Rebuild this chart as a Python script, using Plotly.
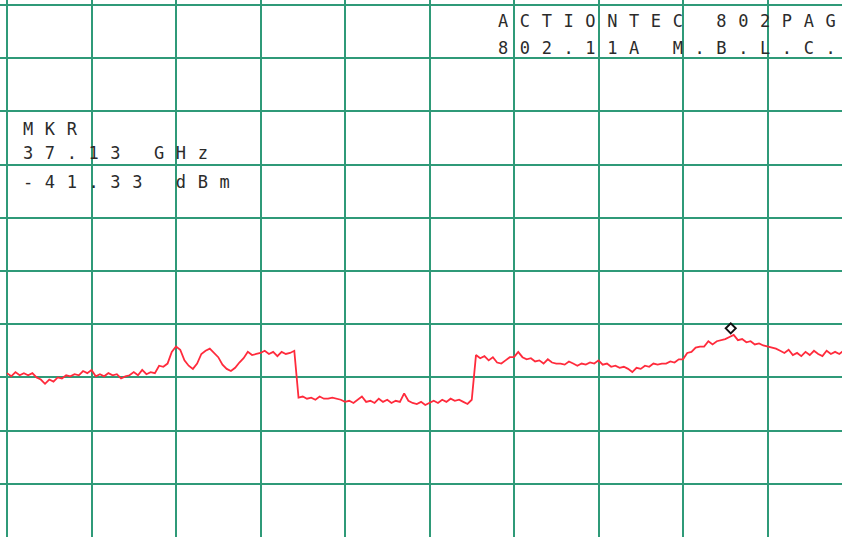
import plotly.graph_objects as go

# Sweep: 20 GHz start, 0.1 GHz per point
START_GHZ = 20.0
STEP_GHZ = 0.1

levels_dbm = [
    -44.6, -44.9, -44.5, -44.8, -44.6, -44.8, -44.6, -45.0, -45.2, -45.6,
    -45.2, -45.4, -45.0, -45.1, -44.8, -44.9, -44.7, -44.8, -44.4, -44.6,
    -44.3, -44.9, -44.7, -44.9, -44.6, -44.8, -44.7, -45.1, -44.9, -44.8,
    -44.5, -44.8, -44.3, -44.7, -44.5, -44.6, -43.9, -44.0, -43.7, -42.6,
    -42.1, -42.4, -43.4, -43.9, -44.2, -43.7, -42.8, -42.5, -42.3, -42.7,
    -43.1, -43.8, -44.2, -44.4, -44.1, -43.6, -43.2, -42.6, -42.9, -42.8,
    -42.7, -42.5, -42.8, -42.6, -43.0, -42.6, -42.8, -42.7, -42.5, -46.9,
    -46.8, -47.0, -46.9, -47.1, -46.8, -47.0, -47.0, -46.9, -47.0, -47.1,
    -47.3, -47.2, -47.4, -47.1, -46.8, -47.3, -47.2, -47.4, -47.0, -47.3,
    -47.1, -47.4, -47.2, -47.3, -46.5, -47.2, -47.4, -47.5, -47.3, -47.6,
    -47.4, -47.2, -47.4, -47.1, -47.3, -47.0, -47.2, -47.1, -47.3, -47.5,
    -47.1, -42.9, -43.2, -43.0, -43.4, -43.1, -43.6, -43.7, -43.4, -43.1,
    -43.1, -42.6, -43.1, -43.3, -43.2, -43.5, -43.4, -43.7, -43.3, -43.6,
    -43.7, -43.7, -43.8, -43.5, -43.7, -43.9, -43.7, -43.8, -43.6, -43.7,
    -43.4, -43.8, -43.7, -44.0, -43.9, -44.1, -44.0, -44.2, -44.5, -44.1,
    -44.2, -43.9, -44.0, -43.7, -43.8, -43.7, -43.7, -43.5, -43.6, -43.3,
    -43.3, -42.7, -42.6, -42.2, -42.1, -42.1, -41.6, -41.9, -41.6, -41.5,
    -41.4, -41.2, -41.0, -41.5, -41.4, -41.7, -41.6, -41.9, -41.8, -42.0,
    -42.1, -42.2, -42.3, -42.5, -42.7, -42.4, -42.9, -42.7, -43.0, -42.6,
    -42.9, -42.5, -42.8, -43.0, -42.5, -42.8, -42.6, -42.8, -42.5, -42.6,
]
freqs_ghz = [round(START_GHZ + STEP_GHZ * i, 1) for i in range(len(levels_dbm))]

MKR_FREQ_GHZ = 37.13
MKR_LEVEL_DBM = -41.33

title_lines = ["ACTIONTEC 802PAG", "802.11A M.B.L.C."]
marker_lines = ["MKR", "37.13 GHz", "-41.33 dBm"]

GRID = "#2f9a78"
TXT = "#2b2b2b"

fig = go.Figure()
fig.add_trace(go.Scatter(
    x=freqs_ghz, y=levels_dbm, mode="lines",
    line=dict(color="#ff2b3c", width=1.8), hoverinfo="skip",
))

# marker diamond drawn just above the marked point
fig.add_shape(
    type="path", xref="x", yref="y",
    xsizemode="pixel", ysizemode="pixel",
    xanchor=MKR_FREQ_GHZ, yanchor=MKR_LEVEL_DBM,
    path="M0,5 L5,10 L0,15 L-5,10 Z",
    line=dict(color="#111111", width=2), fillcolor="rgba(255,255,255,0)",
)

W, H = 842, 537
def px_x(p):
    return p / W
def px_y(p):
    return 1 - p / H

font = dict(family="DejaVu Sans Mono", size=17, color=TXT)
sp = "letter-spacing:11.6px"

def spaced(txt):
    # spacing between characters only (none after the last one)
    return f'<span style="{sp}">{txt[:-1]}</span>{txt[-1]}'

anns = []
for txt, cy in zip(title_lines, [21, 48.5]):
    anns.append(dict(text=spaced(txt), x=px_x(496), y=px_y(cy),
                     xref="paper", yref="paper", xanchor="left", yanchor="middle",
                     showarrow=False, font=font))
for txt, cy in zip(marker_lines, [129, 152.5, 182]):
    anns.append(dict(text=spaced(txt), x=px_x(21), y=px_y(cy),
                     xref="paper", yref="paper", xanchor="left", yanchor="middle",
                     showarrow=False, font=font))

PX_PER_GHZ = 42.25
PX_PER_DB = 10.64
x0 = START_GHZ - 7 / PX_PER_GHZ
x1 = x0 + W / PX_PER_GHZ
ytop = -10 + 5 / PX_PER_DB
ybot = ytop - H / PX_PER_DB

fig.update_layout(
    width=W, height=H, margin=dict(l=0, r=0, t=0, b=0),
    paper_bgcolor="white", plot_bgcolor="white", showlegend=False,
    annotations=anns,
    xaxis=dict(range=[x0, x1], tick0=20, dtick=2, showgrid=True, gridcolor=GRID,
               gridwidth=2, showticklabels=False, zeroline=False, showline=False,
               ticks=""),
    yaxis=dict(range=[ybot, ytop], tick0=-60, dtick=5, showgrid=True, gridcolor=GRID,
               gridwidth=2, showticklabels=False, zeroline=False, showline=False,
               ticks=""),
)
fig.write_html(
    "out.html",
    config={"displayModeBar": False},
    post_script="document.body.style.margin='0';document.body.style.overflow='hidden';",
)
